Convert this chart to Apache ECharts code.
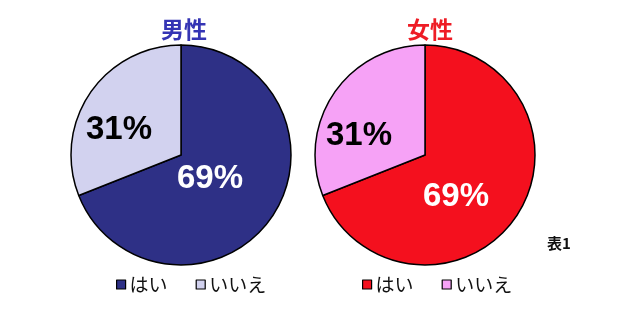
<!DOCTYPE html>
<html>
<head>
<meta charset="utf-8">
<script src="https://cdn.jsdelivr.net/npm/echarts@6/dist/echarts.min.js"></script>
<style>html,body{margin:0;padding:0;background:#fff}#c{width:620px;height:312px}</style>
</head>
<body>
<div id="c"></div>
<script>
const categories = ['はい', 'いいえ'];
const maleValues = [69, 31];
const femaleValues = [69, 31];
const chartTitles = ['男性', '女性'];
const note = '表1';

const maleColors = ['#2E3086', '#D2D2EF'];
const femaleColors = ['#F4101E', '#F6A2F6'];
const labelColors = ['#ffffff', '#000000'];
// label nudges [series][dataIndex] = [dx, dy]
const labelNudge = [[[-19, -9], [-14, 8]], [[-17, 9], [-18, 14]]];

const chart = echarts.init(document.getElementById('c'));
const jpFont = '"Noto Sans CJK JP", sans-serif';
const numFont = '"Liberation Sans", Arial, sans-serif';

function makeData(values, colors) {
  return categories.map((n, i) => ({
    name: n, value: values[i],
    itemStyle: { color: colors[i] },
    label: { color: labelColors[i] }
  }));
}
function makePie(values, colors, center, idx) {
  return {
    type: 'pie', radius: 110, center: center, startAngle: 90, clockwise: true,
    silent: true, animation: false,
    itemStyle: { borderColor: '#000', borderWidth: 1.5 },
    label: {
      show: true, position: 'inside',
      formatter: p => p.value + '%',
      fontFamily: numFont, fontWeight: 'bold', fontSize: 33
    },
    labelLine: { show: false },
    emphasis: { disabled: true },
    labelLayout: p => ({ dx: labelNudge[idx][p.dataIndex][0], dy: labelNudge[idx][p.dataIndex][1] }),
    data: makeData(values, colors)
  };
}
function makeLegend(colors, left) {
  return {
    left: left, top: 270, orient: 'horizontal',
    icon: 'rect', itemWidth: 9, itemHeight: 9, itemGap: 28,
    selectedMode: false,
    textStyle: { fontFamily: jpFont, fontSize: 19, color: '#111', padding: [0, 0, 0, -1] },
    data: categories.map((n, i) => ({
      name: n, itemStyle: { color: colors[i], borderColor: '#000', borderWidth: 1.2 }
    }))
  };
}

chart.setOption({
  animation: false,
  title: [
    { text: chartTitles[0], left: 179, top: 13, textAlign: 'center',
      textStyle: { fontFamily: jpFont, fontSize: 23, fontWeight: 'bold', color: '#3434B4' } },
    { text: chartTitles[1], left: 425, top: 13, textAlign: 'center',
      textStyle: { fontFamily: jpFont, fontSize: 23, fontWeight: 'bold', color: '#EE1C25' } },
    { text: note, left: 542, top: 231,
      textStyle: { fontFamily: jpFont, fontSize: 15, fontWeight: 'bold', color: '#111' } }
  ],
  legend: [makeLegend(maleColors, 111), makeLegend(femaleColors, 357)],
  series: [
    makePie(maleValues, maleColors, [181, 155], 0),
    makePie(femaleValues, femaleColors, [425, 155], 1)
  ]
});
</script>
</body>
</html>
